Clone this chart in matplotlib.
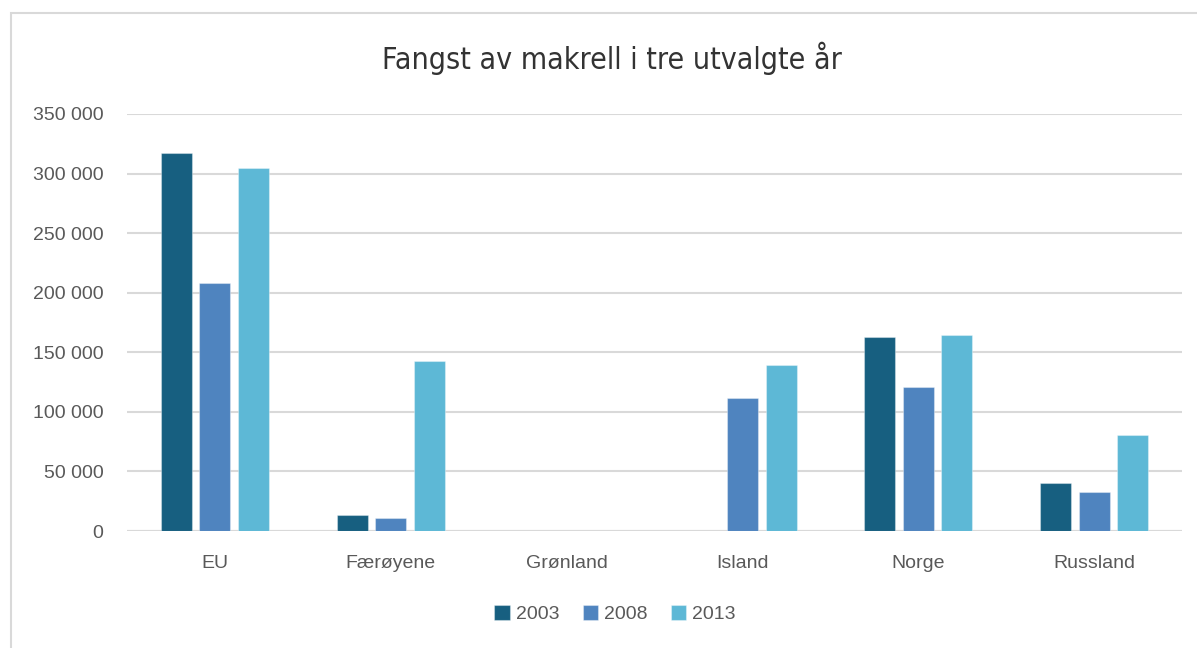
import numpy as np
import matplotlib
matplotlib.use('Agg')
import matplotlib.pyplot as plt
from matplotlib.patches import Rectangle
from matplotlib.ticker import FuncFormatter

plt.rcParams['font.family'] = ['Liberation Sans', 'DejaVu Sans']

# data
land = ['EU', 'Færøyene', 'Grønland', 'Island', 'Norge', 'Russland']
aar = ['2003', '2008', '2013']
fangst_2003 = [317000, 13500, 0, 0, 163000, 40000]
fangst_2008 = [208000, 11000, 0, 112000, 121000, 32500]
fangst_2013 = [305000, 142500, 0, 139500, 164500, 80500]
farger = ['#175F80', '#4F84BF', '#5DB8D6']

fig = plt.figure(figsize=(11.97, 6.48), dpi=100)
ax = fig.add_axes([127 / 1197, 1 - 531 / 648, (1182 - 127) / 1197, (531 - 114) / 648])

# chart border (Excel-style frame, cut off at right/bottom)
fig.patches.append(Rectangle((11 / 1197, -0.1), 1.2, 1 - 13 / 648 + 0.1,
                             transform=fig.transFigure, fill=False,
                             edgecolor='#d9d9d9', linewidth=1.5))

x = np.arange(len(land))
bredde = 0.176
steg = 0.22
for i, (serie, farge) in enumerate(zip([fangst_2003, fangst_2008, fangst_2013], farger)):
    ax.bar(x + (i - 1) * steg, serie, width=bredde, color=farge,
           edgecolor=(1, 1, 1, 0.35), linewidth=0.8, label=aar[i], zorder=3)

ax.set_xlim(-0.5, len(land) - 0.5)
ax.set_ylim(0, 350000)
ax.set_yticks(np.arange(0, 350001, 50000))
ax.yaxis.set_major_formatter(FuncFormatter(lambda v, p: f'{int(v):,}'.replace(',', ' ')))
ax.set_xticks(x)
ax.set_xticklabels(land)

ax.grid(axis='y', color='#d9d9d9', linewidth=1.5, zorder=0)
for sp in ax.spines.values():
    sp.set_visible(False)
ax.axhline(0, color='#d9d9d9', linewidth=1.5, zorder=1)
ax.tick_params(axis='y', length=0, pad=17, labelsize=14, labelcolor='#595959')
ax.tick_params(axis='x', length=0, pad=17, labelsize=14, labelcolor='#595959')

fig.text(612 / 1197, 1 - 58 / 648, 'Fangst av makrell i tre utvalgte år',
         ha='center', va='center', fontsize=21.7, color='#333333',
         family=['DejaVu Sans Condensed', 'DejaVu Sans'],
         stretch='condensed', fontweight='light')

fig.legend(loc='center', bbox_to_anchor=(615 / 1197, 1 - 614 / 648), ncol=3,
           frameon=False, fontsize=14, labelcolor='#595959',
           handlelength=0.8, handleheight=0.8, handletextpad=0.3, columnspacing=1.2)

fig.savefig('out.png', dpi=100)
